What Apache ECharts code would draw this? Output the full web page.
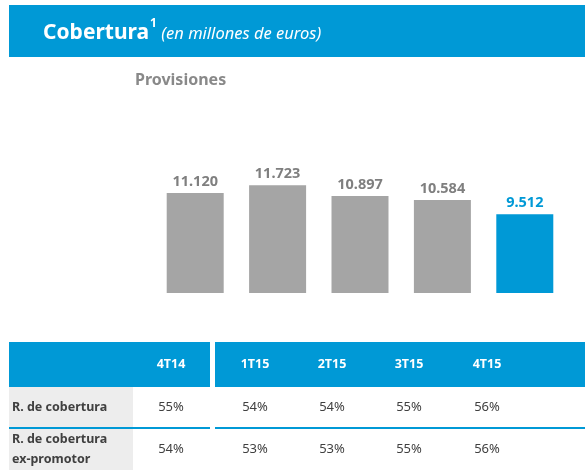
<!DOCTYPE html>
<html>
<head>
<meta charset="utf-8">
<title>Cobertura</title>
<script src="https://cdn.jsdelivr.net/npm/echarts@6/dist/echarts.min.js"></script>
<style>
  html, body { margin: 0; padding: 0; background: #fff; }
  #main { width: 585px; height: 470px; }
</style>
</head>
<body>
<div id="main"></div>
<script>
// datos del grafico
var quarters = ['4T14', '1T15', '2T15', '3T15', '4T15'];
var provisiones = [11120, 11723, 10897, 10584, 9512];
var rowLabels = ['R. de cobertura', 'R. de cobertura\nex-promotor'];
var ratioCobertura = [55, 54, 54, 55, 56];
var ratioExPromotor = [54, 53, 53, 55, 56];

var BLUE = '#0099d6';
var FONT = '"Noto Sans", sans-serif';

// posiciones de la tabla
var colX = [171, 255, 332, 409, 487];
var headTop = 342, headH = 45;
var rowTops = [387, 429];
var rowH = [40, 41];

function fmt(v) {
  return String(v).replace(/\B(?=(\d{3})+(?!\d))/g, '.');
}

var chart = echarts.init(document.getElementById('main'));

var graphic = [];
// cabecera
graphic.push({ type: 'rect', shape: { x: 9, y: 5, width: 576, height: 52 }, style: { fill: BLUE } });
graphic.push({
  type: 'text', x: 43, y: 18,
  style: {
    text: '{b|Cobertura}{s|1} {i|(en millones de euros)}',
    fill: '#fff',
    rich: {
      b: { fontFamily: FONT, fontSize: 21, fontWeight: 'bold', color: '#fff', lineHeight: 30 },
      s: { fontFamily: FONT, fontSize: 12, fontWeight: 'bold', color: '#fff', verticalAlign: 'top', lineHeight: 14, padding: [0, 1, 0, 1] },
      i: { fontFamily: FONT, fontSize: 16.5, fontStyle: 'italic', color: '#fff', lineHeight: 30, padding: [3, 0, 0, 0] }
    }
  }
});
graphic.push({
  type: 'text', x: 135, y: 80,
  style: { text: 'Provisiones', fill: '#898989', font: 'bold 16px ' + FONT, verticalAlign: 'middle' }
});

// tabla
graphic.push({ type: 'rect', shape: { x: 9, y: headTop, width: 201, height: headH }, style: { fill: BLUE } });
graphic.push({ type: 'rect', shape: { x: 215, y: headTop, width: 370, height: headH }, style: { fill: BLUE } });
quarters.forEach(function (q, i) {
  graphic.push({
    type: 'text', x: colX[i], y: headTop + headH / 2,
    style: { text: q, fill: '#fff', font: 'bold 12.5px ' + FONT, align: 'center', verticalAlign: 'middle' }
  });
});
[ratioCobertura, ratioExPromotor].forEach(function (row, r) {
  graphic.push({ type: 'rect', shape: { x: 9, y: rowTops[r], width: 124, height: rowH[r] }, style: { fill: '#ededed' } });
  graphic.push({
    type: 'text', x: 12, y: rowTops[r] + rowH[r] / 2,
    style: { text: rowLabels[r], fill: '#404040', font: 'bold 12.5px ' + FONT, verticalAlign: 'middle', lineHeight: 20 }
  });
  row.forEach(function (v, i) {
    graphic.push({
      type: 'text', x: colX[i], y: rowTops[r] + rowH[r] / 2,
      style: { text: v + '%', fill: '#404040', font: '13px ' + FONT, align: 'center', verticalAlign: 'middle' }
    });
  });
});
// linea separadora
graphic.push({ type: 'rect', shape: { x: 9, y: 427, width: 201, height: 2 }, style: { fill: BLUE } });
graphic.push({ type: 'rect', shape: { x: 215, y: 427, width: 370, height: 2 }, style: { fill: BLUE } });

var option = {
  animation: false,
  grid: { left: 154, top: 175, width: 412, height: 118 },
  xAxis: {
    type: 'category',
    data: quarters,
    axisLine: { show: false },
    axisTick: { show: false },
    axisLabel: { show: false }
  },
  yAxis: {
    type: 'value',
    min: 3500,
    max: 12500,
    show: false,
    splitLine: { show: false }
  },
  series: [{
    type: 'bar',
    barWidth: 57,
    data: provisiones.map(function (v, i) {
      var last = i === provisiones.length - 1;
      return {
        value: v,
        itemStyle: { color: last ? BLUE : '#a5a5a5' },
        label: { color: last ? BLUE : '#7f7f7f' }
      };
    }),
    label: {
      show: true,
      position: 'top',
      distance: 4,
      fontFamily: FONT,
      fontSize: 14.5,
      fontWeight: 'bold',
      formatter: function (p) { return fmt(p.value); }
    }
  }],
  graphic: graphic
};

chart.setOption(option);
</script>
</body>
</html>
